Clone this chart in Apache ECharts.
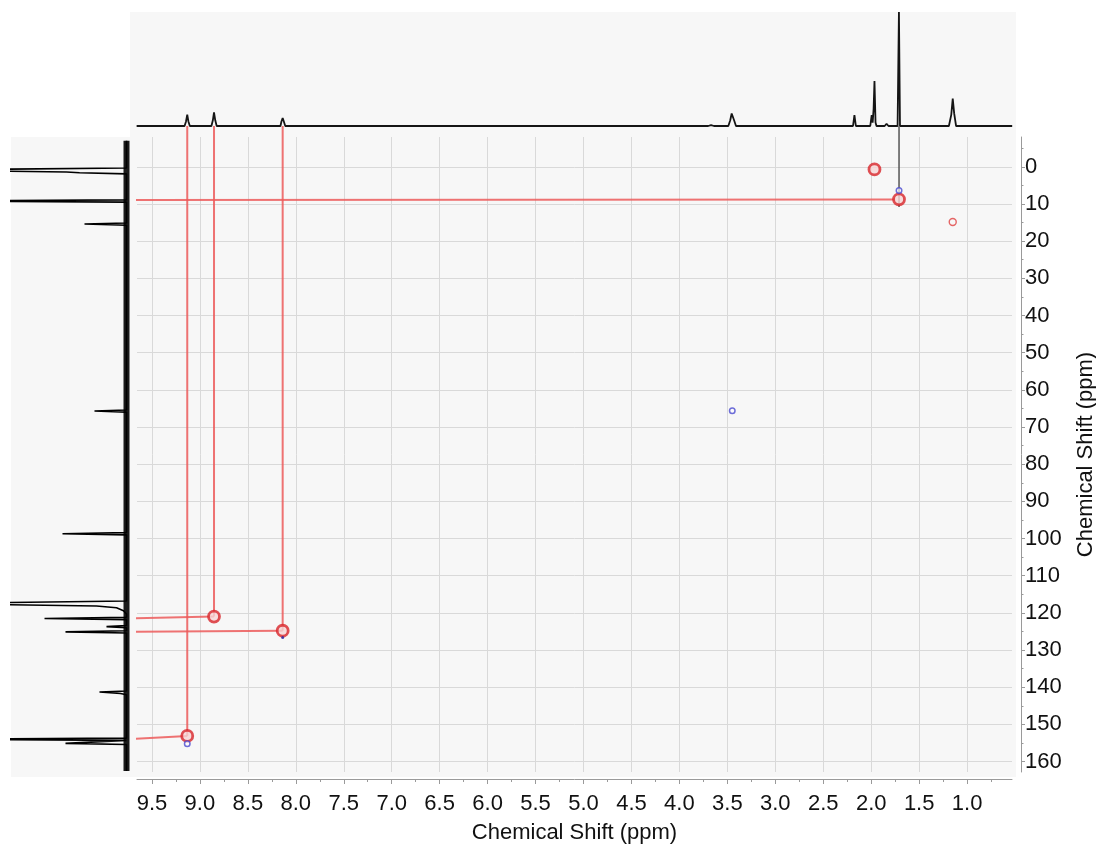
<!DOCTYPE html>
<html><head><meta charset="utf-8">
<script src="https://cdn.jsdelivr.net/npm/echarts@6/dist/echarts.min.js"></script>
<style>html,body{margin:0;padding:0;background:#fff}#c{width:1096px;height:846px}</style>
</head><body><div id="c"></div>
<script>
// ---------------- DATA ----------------
// axis ticks (ppm)
const xTickLabels = [9.5,9.0,8.5,8.0,7.5,7.0,6.5,6.0,5.5,5.0,4.5,4.0,3.5,3.0,2.5,2.0,1.5,1.0];
const xMinorTicks = [9.25,8.75,8.25,7.75,7.25,6.75,6.25,5.75,5.25,4.75,4.25,3.75,3.25,2.75,2.25,1.75,1.25,0.75];
const yTickLabels = [0,10,20,30,40,50,60,70,80,90,100,110,120,130,140,150,160];
const yMinorTicks = [-5,5,15,25,35,45,55,65,75,85,95,105,115,125,135,145,155];

// 1H projection: [ppm, relative intensity]
const protonSpectrum = [
  [9.66,0],[9.16,0],[9.145,4],[9.132,10],[9.12,4],[9.105,0],
  [8.88,0],[8.865,5],[8.853,12],[8.84,5],[8.825,0],
  [8.16,0],[8.15,4],[8.137,7],[8.125,4],[8.11,0],
  [3.70,0],[3.67,0.8],[3.64,0],
  [3.49,0],[3.47,5],[3.455,11],[3.445,10.5],[3.43,5],[3.41,0],
  [2.19,0],[2.175,9.6],[2.16,0],
  [2.01,0],[1.995,9.6],[1.985,3],[1.975,15],[1.966,39.5],[1.955,3],[1.945,0],
  [1.86,0],[1.84,2],[1.82,0],
  [1.725,0],[1.711,100],[1.70,0],
  [1.60,0],[1.58,1.3],[1.56,0],
  [1.19,0],[1.165,10],[1.15,24],[1.135,11],[1.115,0],
  [0.53,0]
];

// 13C projection: [relative intensity, ppm]
const carbonSpectrum = [
  [0,-7],[0,0.3],[200,0.85],[200,1.3],[60,1.4],[47,1.6],[0,1.9],
  [0,8.9],[200,9.2],[0,9.5],
  [0,15.1],[42,15.4],[0,15.7],
  [0,65.4],[32,65.7],[0,66.0],
  [0,98.4],[64,98.7],[0,99.0],
  [0,116.8],[200,117.5],[200,118.0],[30,118.15],[10,118.6],[3,119.4],[0,120.3],
  [0,121.2],[82,121.5],[0,121.8],
  [0,123.4],[20,123.7],[0,124.0],
  [0,124.8],[61,125.1],[0,125.4],
  [0,141.0],[27,141.3],[6,141.7],[0,142.0],
  [0,153.7],[200,154.0],[0,154.3],
  [0,154.8],[61,155.1],[0,155.4],
  [0,162.5]
];
const carbonBaseline = [[0,-7],[0,162.5]];

// HSQC cross peaks: [1H ppm, 13C ppm]
const crossPeaksRed = [[1.966,0.7],[1.71,8.74],[8.853,121.0],[8.137,124.8],[9.132,153.1]];
const crossPeaksRedWeak = [[1.15,14.85]];
const crossPeaksBlue = [[1.71,6.4],[3.449,65.6],[9.132,155.2]];
const crossPeaksBlueDot = [[8.137,126.6]];

// assignment links: [13C projection peak ppm, cross peak 1H, cross peak 13C]
const carbonLinks = [[8.9,1.75,8.8],[121.5,8.853,121.0],[125.1,8.137,124.8],[154.0,9.132,153.1]];
// [1H ppm, cross peak 13C]
const protonLinks = [[9.132,153.1],[8.853,121.0],[8.137,124.8]];
const protonLinkGray = [[1.71,10.8]];

// ---------------- LAYOUT ----------------
const X_MAX = 9.656, X_MIN = 0.532, Y_MIN = -8.02, Y_MAX = 162.8;
const LEFT_BASE_PPM = 9.76;   // x of 13C projection baseline in 1H ppm
const TOP_BASE_PPM = -10.97;  // y of 1H projection baseline in 13C ppm
const FONT = 'Liberation Sans, Arial, sans-serif';
const GRID = '#d9d9d9', AX = '#9a9a9a';

const chart = echarts.init(document.getElementById('c'), null, {renderer:'canvas'});

const redLine = {color:'rgba(236,90,90,0.85)', width:2};
const linkSeries = [];
carbonLinks.forEach(l => linkSeries.push({
  type:'line', xAxisIndex:0, yAxisIndex:0, clip:false, symbol:'none', z:3, silent:true,
  lineStyle:redLine, data:[[LEFT_BASE_PPM,l[0]],[l[1],l[2]]]
}));
protonLinks.forEach(l => linkSeries.push({
  type:'line', xAxisIndex:0, yAxisIndex:0, clip:false, symbol:'none', z:3, silent:true,
  lineStyle:redLine, data:[[l[0],TOP_BASE_PPM],[l[0],l[1]]]
}));
protonLinkGray.forEach(l => linkSeries.push({
  type:'line', xAxisIndex:0, yAxisIndex:0, clip:false, symbol:'none', z:3, silent:true,
  lineStyle:{color:'#555', width:1.5}, data:[[l[0],TOP_BASE_PPM],[l[0],l[1]]]
}));

const gridBase = {containLabel:false, outerBoundsMode:'none'};
const option = {
  animation:false,
  backgroundColor:'#fff',
  graphic:[
    {type:'rect', z:-10, shape:{x:130,y:12,width:886,height:125}, style:{fill:'#f7f7f7'}},
    {type:'rect', z:-10, shape:{x:11,y:137,width:1005,height:640}, style:{fill:'#f7f7f7'}}
  ],
  grid:[
    Object.assign({left:137, top:137, width:875, height:635}, gridBase),
    Object.assign({left:137, top:12, width:875, height:114}, gridBase),
    Object.assign({left:11, top:137, width:115.5, height:635}, gridBase)
  ],
  xAxis:[
    {gridIndex:0, type:'value', inverse:true, min:X_MIN, max:X_MAX, position:'bottom', offset:7,
     axisLine:{show:true, onZero:false, lineStyle:{color:AX, width:1}},
     axisTick:{show:true, customValues:xTickLabels, length:5, lineStyle:{color:AX}},
     axisLabel:{show:true, customValues:xTickLabels, formatter:v=>v.toFixed(1), fontSize:22, color:'#111', fontFamily:FONT, margin:14},
     splitLine:{show:true, lineStyle:{color:GRID, width:1}},
     name:'Chemical Shift (ppm)', nameLocation:'middle', nameGap:43,
     nameTextStyle:{fontSize:22, color:'#111', fontFamily:FONT}},
    {gridIndex:0, type:'value', inverse:true, min:X_MIN, max:X_MAX, position:'bottom', offset:7,
     axisLine:{show:false, onZero:false}, axisTick:{show:true, customValues:xMinorTicks, length:3, lineStyle:{color:AX}},
     axisLabel:{show:false}, splitLine:{show:false}},
    {gridIndex:1, type:'value', inverse:true, min:X_MIN, max:X_MAX, show:false, axisLine:{onZero:false}},
    {gridIndex:2, type:'value', inverse:true, min:0, max:115.5, show:false, axisLine:{onZero:false}}
  ],
  yAxis:[
    {gridIndex:0, type:'value', inverse:true, min:Y_MIN, max:Y_MAX, position:'right', offset:9,
     axisLine:{show:true, onZero:false, lineStyle:{color:AX, width:1}},
     axisTick:{show:true, customValues:yTickLabels, length:4, lineStyle:{color:AX}},
     axisLabel:{show:true, customValues:yTickLabels, fontSize:22, color:'#111', fontFamily:FONT, margin:4},
     splitLine:{show:true, lineStyle:{color:GRID, width:1}},
     name:'Chemical Shift (ppm)', nameLocation:'middle', nameGap:54, nameRotate:90,
     nameTextStyle:{fontSize:22, color:'#111', fontFamily:FONT}},
    {gridIndex:0, type:'value', inverse:true, min:Y_MIN, max:Y_MAX, position:'right', offset:9,
     axisLine:{show:false, onZero:false}, axisTick:{show:true, customValues:yMinorTicks, length:2.5, lineStyle:{color:AX}},
     axisLabel:{show:false}, splitLine:{show:false}},
    {gridIndex:1, type:'value', min:0, max:100, show:false, axisLine:{onZero:false}},
    {gridIndex:2, type:'value', inverse:true, min:Y_MIN, max:Y_MAX, show:false, axisLine:{onZero:false}}
  ],
  series:[
    {type:'line', xAxisIndex:2, yAxisIndex:2, data:protonSpectrum, symbol:'none', z:2, silent:true,
     lineStyle:{color:'#151515', width:1.8}},
    {type:'line', xAxisIndex:3, yAxisIndex:3, data:carbonBaseline, symbol:'none', z:2, silent:true,
     lineStyle:{color:'#1a1a1a', width:6}},
    {type:'line', xAxisIndex:3, yAxisIndex:3, data:carbonSpectrum, symbol:'none', z:2, silent:true,
     lineStyle:{color:'#000', width:1.6}},
    ...linkSeries,
    {type:'scatter', xAxisIndex:0, yAxisIndex:0, data:crossPeaksRed, symbol:'circle', symbolSize:11, z:5, silent:true,
     itemStyle:{color:'#f6d4d4', borderColor:'#d8262a', borderWidth:2.8}},
    {type:'scatter', xAxisIndex:0, yAxisIndex:0, data:crossPeaksRedWeak, symbol:'circle', symbolSize:7, z:5, silent:true,
     itemStyle:{color:'rgba(0,0,0,0)', borderColor:'#e04040', borderWidth:1.4}},
    {type:'scatter', xAxisIndex:0, yAxisIndex:0, data:crossPeaksBlue, symbol:'circle', symbolSize:5.5, z:6, silent:true,
     itemStyle:{color:'rgba(255,255,255,0.8)', borderColor:'#4a4ad0', borderWidth:1.5}},
    {type:'scatter', xAxisIndex:0, yAxisIndex:0, data:crossPeaksBlueDot, symbol:'circle', symbolSize:3, z:6, silent:true,
     itemStyle:{color:'#2020a0'}}
  ]
};
chart.setOption(option);
</script></body></html>
